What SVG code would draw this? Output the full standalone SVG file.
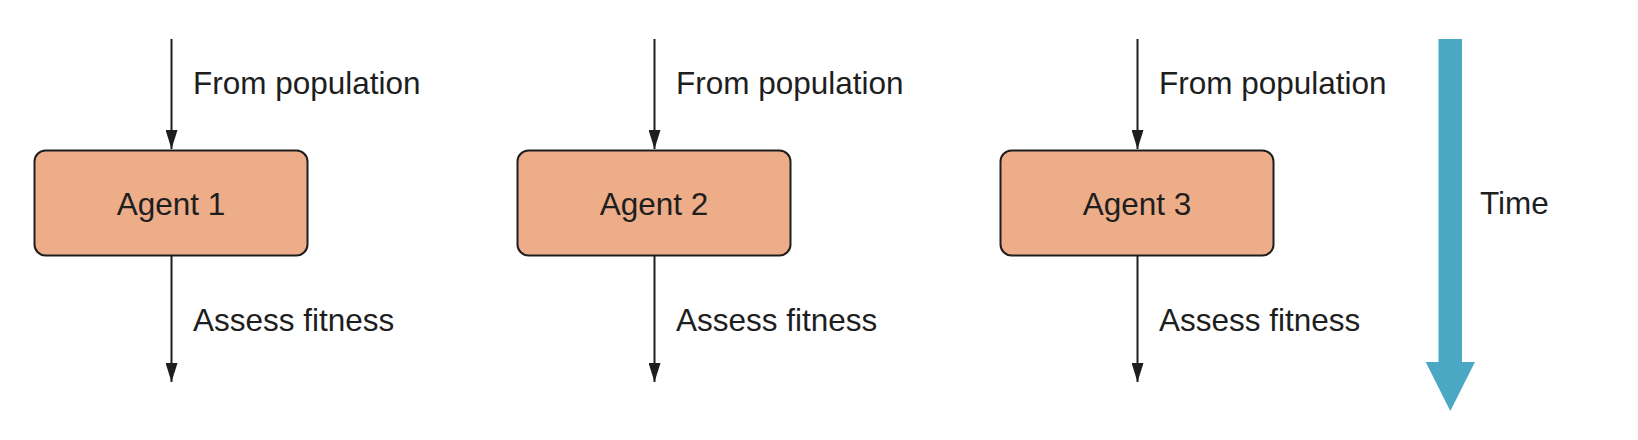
<svg xmlns="http://www.w3.org/2000/svg" width="1638" height="440" viewBox="0 0 1638 440">
  <style>
    .box { fill: #ecad88; stroke: #1e1e1e; stroke-width: 2; }
    .lbl { font-family: "Liberation Sans", Arial, sans-serif; font-size: 31.5px; fill: #1e1e1e; }
    .conn { stroke: #1e1e1e; stroke-width: 2; fill: none; marker-end: url(#ah); }
  </style>
  <defs>
    <marker id="ah" markerUnits="userSpaceOnUse" markerWidth="20" markerHeight="12" viewBox="0 0 20 12" refX="19" refY="6" orient="auto">
      <path d="M0,0 L19,6 L0,12 Z" fill="#1e1e1e"/>
    </marker>
  </defs>
  <rect width="1638" height="440" fill="#ffffff"/>
  <g id="connectors">
    <line class="conn" x1="171.5" y1="39" x2="171.5" y2="149"/>
    <line class="conn" x1="171.5" y1="255" x2="171.5" y2="382"/>
    <line class="conn" x1="654.5" y1="39" x2="654.5" y2="149"/>
    <line class="conn" x1="654.5" y1="255" x2="654.5" y2="382"/>
    <line class="conn" x1="1137.5" y1="39" x2="1137.5" y2="149"/>
    <line class="conn" x1="1137.5" y1="255" x2="1137.5" y2="382"/>
    <text class="lbl" x="193" y="94">From population</text>
    <text class="lbl" x="193" y="331">Assess fitness</text>
    <text class="lbl" x="676" y="94">From population</text>
    <text class="lbl" x="676" y="331">Assess fitness</text>
    <text class="lbl" x="1159" y="94">From population</text>
    <text class="lbl" x="1159" y="331">Assess fitness</text>
  </g>
  <g id="agent1">
    <rect class="box" x="34.5" y="150.5" width="273" height="105" rx="11"/>
    <text class="lbl" x="171" y="215" text-anchor="middle">Agent 1</text>
  </g>
  <g id="agent2">
    <rect class="box" x="517.5" y="150.5" width="273" height="105" rx="11"/>
    <text class="lbl" x="654" y="215" text-anchor="middle">Agent 2</text>
  </g>
  <g id="agent3">
    <rect class="box" x="1000.5" y="150.5" width="273" height="105" rx="11"/>
    <text class="lbl" x="1137" y="215" text-anchor="middle">Agent 3</text>
  </g>
  <g id="time">
    <path d="M1438.5,39 L1462,39 L1462,362 L1475,362 L1450.3,411 L1425.7,362 L1438.5,362 Z" fill="#4ba8c4"/>
    <text class="lbl" x="1480" y="214">Time</text>
  </g>
</svg>
